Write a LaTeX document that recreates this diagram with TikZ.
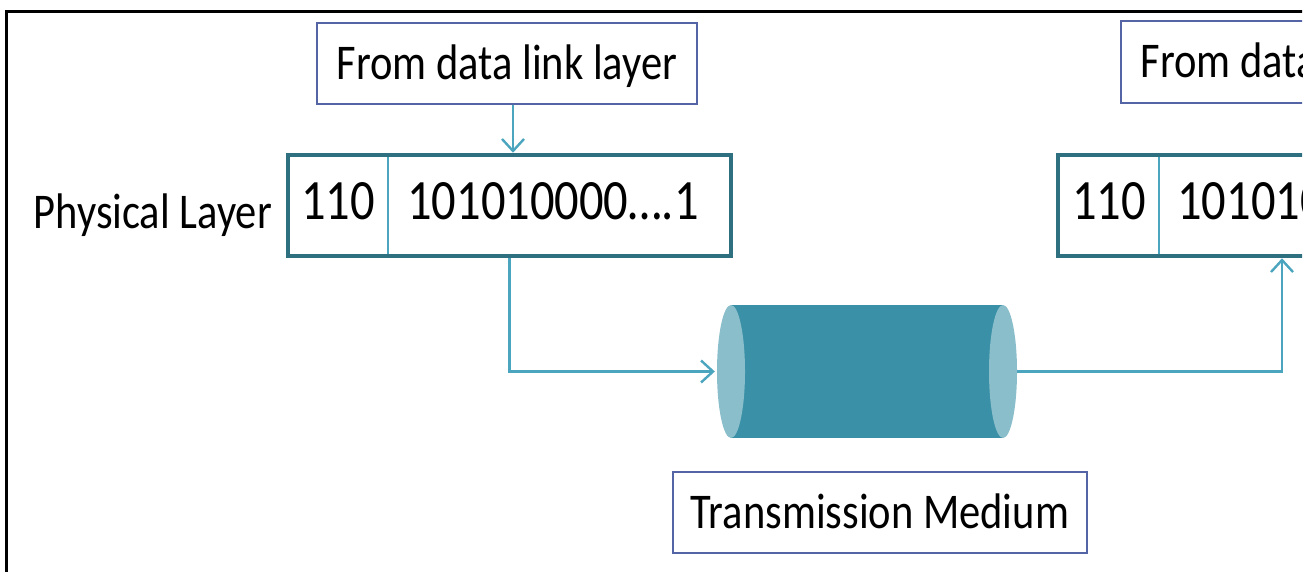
\documentclass[tikz,border=0pt]{standalone}
\usepackage{fontspec}
\setmainfont{Carlito}[FakeStretch=0.85]
\usetikzlibrary{arrows.meta}
\definecolor{pktc}{RGB}{46,112,127}
\definecolor{linec}{RGB}{75,165,190}
\definecolor{boxc}{RGB}{85,100,165}
\definecolor{cylbodyc}{RGB}{58,144,166}
\definecolor{cylendc}{RGB}{138,190,203}
\begin{document}
\begin{tikzpicture}[x=1pt,y=-1pt,
  frame/.style={line width=3pt,black},
  infobox/.style={draw=boxc,line width=2pt,rectangle,inner sep=0pt,
    font=\fontsize{50}{56}\selectfont,text height=32pt,text depth=0pt},
  pktbox/.style={draw=pktc,line width=4.5pt,rectangle,inner sep=0pt,
    minimum width=443pt,minimum height=101pt},
  divider/.style={linec,line width=2pt},
  bits/.style={anchor=base,inner sep=0pt,font=\fontsize{57}{62}\selectfont},
  lbl/.style={inner sep=0pt,font=\fontsize{50}{56}\selectfont},
  arr/.style={linec,line width=2.4pt,-{Straight Barb[length=12pt,width=22pt,line width=2.4pt]}},
  cylbody/.style={fill=cylbodyc},
  cylend/.style={fill=cylendc}]
\useasboundingbox (0,0) rectangle (1311,572);
\begin{scope}
\clip (0,0) rectangle (1302,572);
% frame
\draw[frame] (6,590) -- (6,12) -- (1320,12);
% left side
\node[infobox,minimum width=380pt,minimum height=81pt] (fromL) at (507,63.5) {From data link layer};
\node[pktbox] (pktL) at (509.5,205.5) {};
\draw[divider] (388,157) -- (388,254);
\node[bits] (hdrL) at (338,219) {110};
\node[bits] (dataL) at (553,219) {101010000….1};
\node[lbl,anchor=base east] (phys) at (272,229) {Physical Layer};
% cylinder
\node[inner sep=0pt,minimum width=300pt,minimum height=133pt] (cyl) at (867,371.5) {};
\fill[cylbody] (731,305) rectangle (1003,438);
\fill[cylend] (731,371.5) ellipse [x radius=14, y radius=66.5];
\fill[cylend] (1003,371.5) ellipse [x radius=14, y radius=66.5];
\node[infobox,minimum width=414pt,minimum height=81pt] (tm) at (880,512.5) {Transmission Medium};
% right side
\node[infobox,minimum width=380pt,minimum height=82pt] (fromR) at (1311,62) {From data link layer};
\node[pktbox] (pktR) at (1279.5,205.5) {};
\draw[divider] (1159,157) -- (1159,254);
\node[bits] (hdrR) at (1109,219) {110};
\node[bits] (dataR) at (1323,219) {101010000….1};
% connectors
\draw[arr] ([xshift=6pt]fromL.south) -- ([xshift=6pt]fromL.south |- pktL.north);
\draw[arr] (pktL.south) |- ([xshift=-2pt]cyl.west);
\draw[arr] (cyl.east) -| ([xshift=2.5pt]pktR.south);
\end{scope}
\end{tikzpicture}
\end{document}
